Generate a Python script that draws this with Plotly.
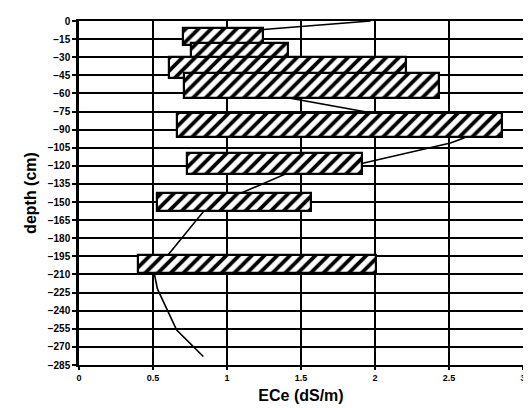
import plotly.graph_objects as go

# ECe ranges per depth layer (floating hatched bars)
layer_top = [-6, -18, -30, -43, -76, -109, -142.5, -194]
layer_bottom = [-20, -31, -47, -64, -96, -127, -157.5, -209]
ece_min = [0.70, 0.76, 0.61, 0.71, 0.66, 0.73, 0.53, 0.40]
ece_max = [1.24, 1.41, 2.21, 2.43, 2.86, 1.91, 1.57, 2.01]

# profile line
line_depth = [0, -8, -64, -76, -93, -97, -101, -118, -126, -142, -155, -194, -210, -222, -240, -256, -278]
line_ece = [1.97, 1.15, 1.43, 1.97, 2.63, 2.60, 2.51, 1.91, 1.41, 1.11, 0.86, 0.60, 0.51, 0.53, 0.60, 0.66, 0.84]

y_ticks = [0, -15, -30, -45, -60, -75, -90, -105, -120, -135, -150, -165, -180, -195,
           -210, -225, -240, -255, -270, -285]
x_ticks = [0, 0.5, 1, 1.5, 2, 2.5, 3]
x_tick_labels = ["0", "0.5", "1", "1.5", "2", "2.5", "3"]

centers = [(a + b) / 2 for a, b in zip(layer_top, layer_bottom)]
thick = [a - b for a, b in zip(layer_top, layer_bottom)]
lengths = [b - a for a, b in zip(ece_min, ece_max)]

fig = go.Figure()
fig.add_trace(go.Scatter(
    x=line_ece, y=line_depth, mode="lines",
    line=dict(color="black", width=1.6),
    showlegend=False, hoverinfo="skip", xaxis="x", yaxis="y"))
fig.add_trace(go.Bar(
    orientation="h", y=centers, x=lengths, base=ece_min, width=thick,
    marker=dict(color="white",
                line=dict(color="black", width=2.2),
                pattern=dict(shape="/", fgcolor="black", bgcolor="white",
                             size=9, solidity=0.42, fillmode="replace")),
    showlegend=False, hoverinfo="skip", xaxis="x2", yaxis="y2"))

font_family = "Liberation Sans, Arial, sans-serif"
fig.update_layout(
    width=523, height=400,
    margin=dict(l=71, r=8, t=13, b=43),
    paper_bgcolor="white", plot_bgcolor="white",
    font=dict(family=font_family, color="black"),
    xaxis=dict(range=[0, 3], tickvals=x_ticks, ticktext=x_tick_labels,
               showgrid=True, gridcolor="black", gridwidth=1.5,
               showline=True, linecolor="black", linewidth=2, mirror=True,
               ticks="outside", ticklen=3, tickcolor="black", tickwidth=1.5,
               tickfont=dict(size=9, family=font_family, weight="bold"),
               title=dict(text="ECe (dS/m)", font=dict(size=16, family=font_family, weight="bold"),
                          standoff=8),
               zeroline=False, automargin=False),
    yaxis=dict(range=[-285, 0], tickvals=y_ticks,
               showgrid=True, gridcolor="black", gridwidth=1.5,
               showline=True, linecolor="black", linewidth=2.5, mirror=True,
               ticks="outside", ticklen=4, tickcolor="black", tickwidth=1.5,
               tickfont=dict(size=10, family=font_family, weight="bold"),
               title=dict(text="depth (cm)", font=dict(size=16, family=font_family, weight="bold"),
                          standoff=8),
               zeroline=False, automargin=False),
    xaxis2=dict(range=[0, 3], overlaying="x", visible=False, showgrid=False, zeroline=False),
    yaxis2=dict(range=[-285, 0], overlaying="y", visible=False, showgrid=False, zeroline=False),
    bargap=0,
)

fig.write_html("out.html")
